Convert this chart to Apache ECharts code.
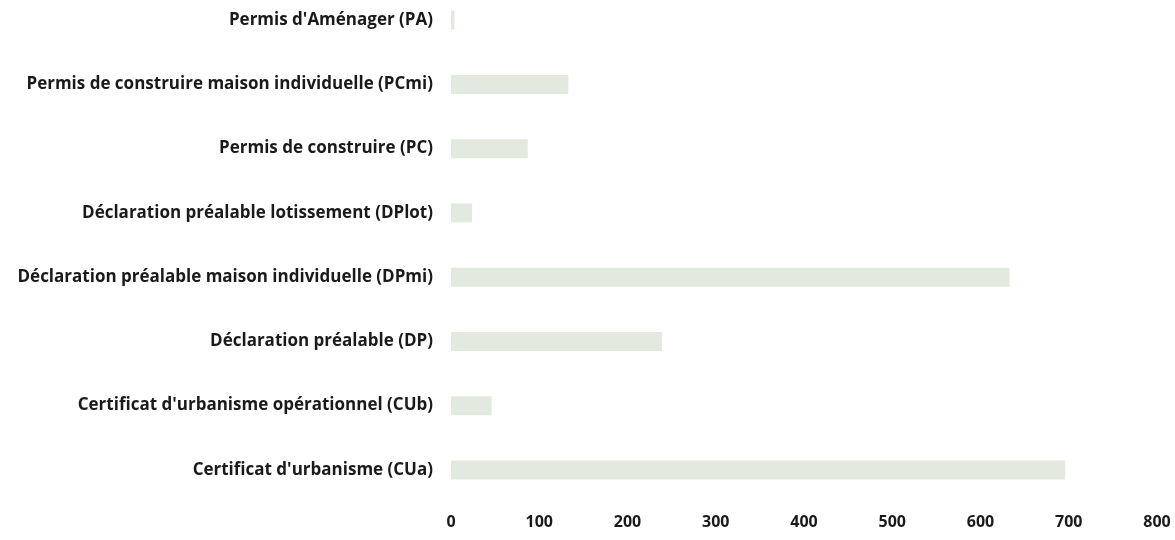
<!DOCTYPE html>
<html>
<head>
<meta charset="utf-8">
<script src="https://cdn.jsdelivr.net/npm/echarts@6/dist/echarts.min.js"></script>
<style>
  html, body { margin: 0; padding: 0; background: #ffffff; }
  #chart { width: 1175px; height: 540px; }
</style>
</head>
<body>
<div id="chart"></div>
<script>
// Autorisations d'urbanisme par type de demande (bottom to top)
const categories = [
  "Certificat d'urbanisme (CUa)",
  "Certificat d'urbanisme opérationnel (CUb)",
  "Déclaration préalable (DP)",
  "Déclaration préalable maison individuelle (DPmi)",
  "Déclaration préalable lotissement (DPlot)",
  "Permis de construire (PC)",
  "Permis de construire maison individuelle (PCmi)",
  "Permis d'Aménager (PA)"
];
const values = [696, 46, 239, 633, 24, 87, 133, 4];
const xTicks = [0, 100, 200, 300, 400, 500, 600, 700, 800];

const chart = echarts.init(document.getElementById('chart'), null, { renderer: 'canvas' });
chart.setOption({
  animation: false,
  backgroundColor: '#ffffff',
  grid: {
    left: 451, right: 18, top: -12, bottom: 38,
    containLabel: false,
    outerBoundsMode: 'none'
  },
  xAxis: {
    type: 'value',
    min: xTicks[0],
    max: xTicks[xTicks.length - 1],
    interval: 100,
    axisLine: { show: false },
    axisTick: { show: false },
    splitLine: { show: false },
    axisLabel: {
      margin: 12,
      color: '#1a1a1a',
      fontFamily: 'Open Sans',
      fontWeight: 'bold',
      fontSize: 16
    }
  },
  yAxis: {
    type: 'category',
    data: categories,
    axisLine: { show: false },
    axisTick: { show: false },
    splitLine: { show: false },
    axisLabel: {
      margin: 18,
      color: '#1a1a1a',
      fontFamily: 'Open Sans',
      fontWeight: 'bold',
      fontSize: 17
    }
  },
  series: [{
    type: 'bar',
    data: values,
    barWidth: 19,
    itemStyle: { color: '#e2eadf' }
  }]
});
</script>
</body>
</html>
